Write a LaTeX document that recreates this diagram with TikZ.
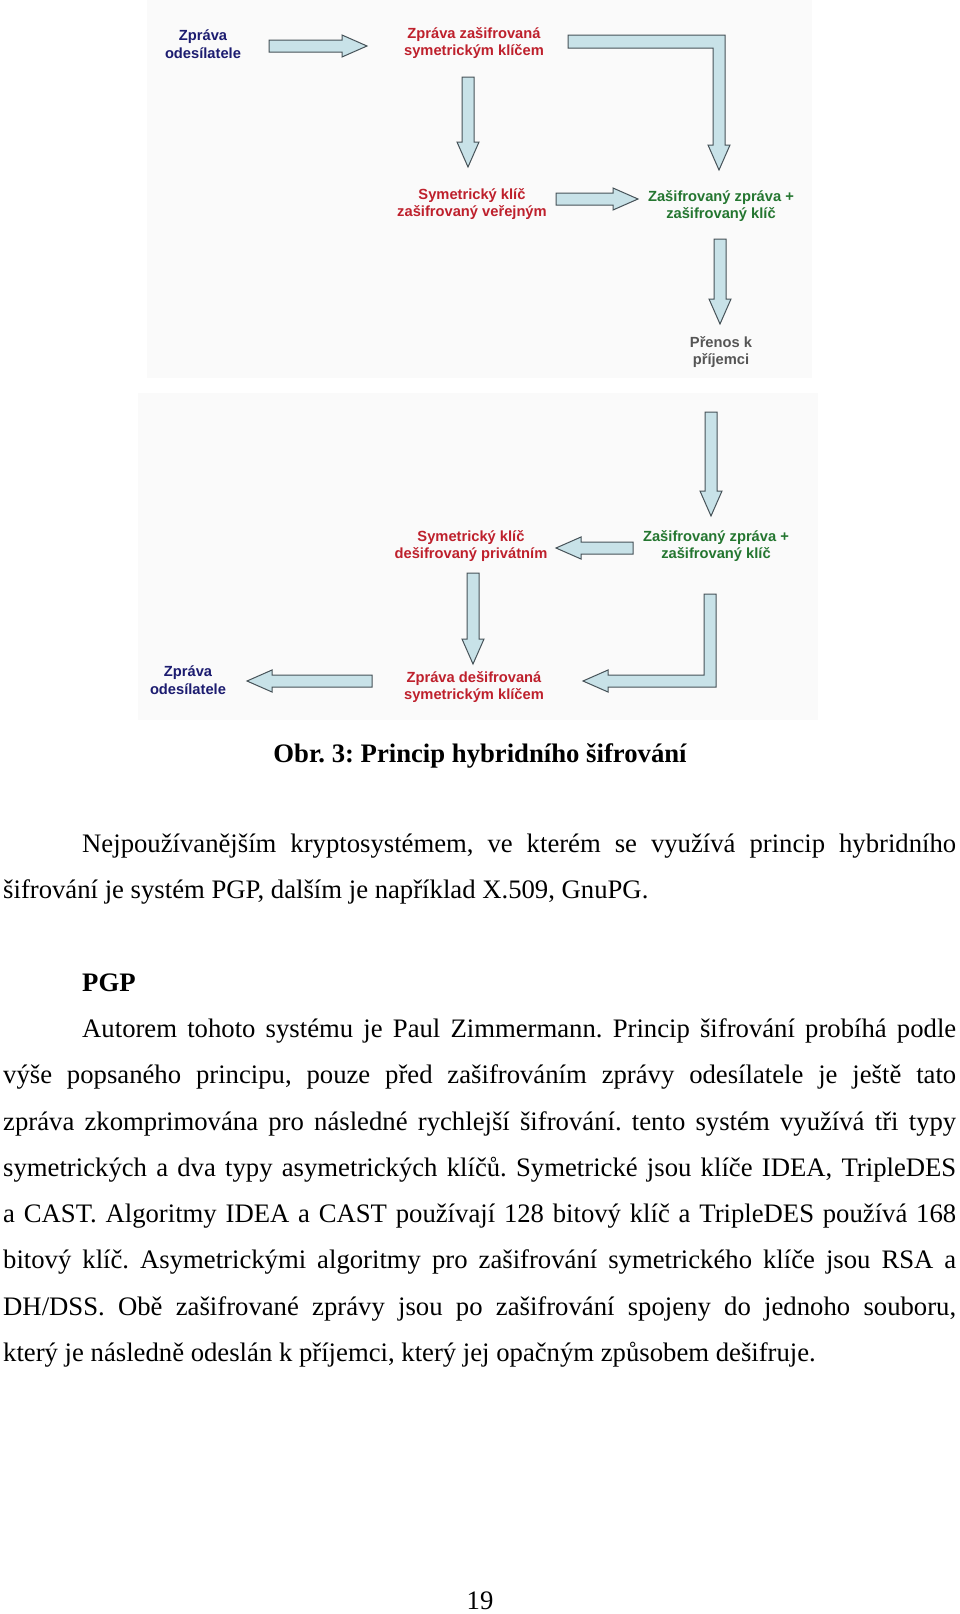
\documentclass[tikz,border=0pt]{standalone}
\usepackage{fontspec}
\setmainfont{Liberation Serif}
\newfontfamily\folienfont{Liberation Sans}
\usepackage{tikz}
\usetikzlibrary{calc}
\frenchspacing

\definecolor{pfeilfill}{RGB}{200,226,232}
\definecolor{pfeilrand}{RGB}{70,82,88}
\definecolor{textblau}{RGB}{28,28,112}
\definecolor{textrot}{RGB}{190,32,44}
\definecolor{textgruen}{RGB}{36,118,48}
\definecolor{textgrau}{RGB}{85,85,85}
\definecolor{folie}{RGB}{250,250,250}

% Masse der Blockpfeile
\newcommand{\pfsw}{6pt}
\newcommand{\pfhw}{11pt}
\newcommand{\pfhl}{25pt}
% Blockpfeil von #1 nach #2
\newcommand{\blockpfeil}[2]{%
  \coordinate (pa) at #1;
  \coordinate (pb) at #2;
  \draw[pfeil] ($(pa)!\pfsw!90:(pb)$)
    -- ($(pb)!\pfhl!(pa)!\pfsw!90:(pb)$)
    -- ($(pb)!\pfhl!(pa)!\pfhw!90:(pb)$)
    -- (pb)
    -- ($(pb)!\pfhl!(pa)!\pfhw!-90:(pb)$)
    -- ($(pb)!\pfhl!(pa)!\pfsw!-90:(pb)$)
    -- ($(pa)!\pfsw!-90:(pb)$) -- cycle;}

\tikzset{
  folientext/.style={font=\folienfont\bfseries\fontsize{14.7}{17.5}\selectfont, align=center, inner sep=0pt},
  pfeil/.style={draw=pfeilrand, fill=pfeilfill, line width=1pt, line join=miter},
  zeile/.style={anchor=base west, inner sep=0pt, font=\fontsize{26.7}{46.3}\selectfont},
}

\begin{document}
\begin{tikzpicture}[x=1pt,y=-1pt]
  \useasboundingbox[fill=white] (0,0) rectangle (960,1614);
  % Hintergrund der beiden Folien
  \fill[folie] (147,0) rectangle (812,378);
  \fill[folie] (138,393) rectangle (818,720);

  % obere Folie: Verschluesselung
  \node[folientext, text=textblau] (n1) at (203,44) {Zpráva\\odesílatele};
  \node[folientext, text=textrot] (n2) at (474,43) {Zpráva zašifrovaná\\symetrickým klíčem};
  \node[folientext, text=textrot] (n3) at (472,204) {Symetrický klíč\\zašifrovaný veřejným};
  \node[folientext, text=textgruen] (n4) at (721,206) {Zašifrovaný zpráva +\\zašifrovaný klíč};
  \node[folientext, text=textgrau] (n5) at (721,352) {Přenos k\\příjemci};

  \blockpfeil{($(n1)+(66,2)$)}{($(n2)+(-107,3)$)}
  \blockpfeil{($(n2)+(-6,34)$)}{($(n3)+(-4,-37)$)}
  \blockpfeil{($(n3)+(84,-5)$)}{($(n4)+(-83,-7)$)}
  \blockpfeil{($(n4)+(-1,33)$)}{($(n5)+(-1,-28)$)}
  % Winkelpfeil oben
  \coordinate (l1s) at ($(n2)+(94,-1)$);
  \coordinate (l1e) at ($(n4)+(-2,-36)$);
  \draw[pfeil] ($(l1s)+(0,-7)$) -- ($(l1e |- l1s)+(6,-7)$) -- ($(l1e)+(6,-25)$)
    -- ($(l1e)+(11,-25)$) -- (l1e) -- ($(l1e)+(-11,-25)$) -- ($(l1e)+(-6,-25)$)
    -- ($(l1e |- l1s)+(-6,6)$) -- ($(l1s)+(0,6)$) -- cycle;

  % untere Folie: Entschluesselung
  \node[folientext, text=textgruen] (n6) at (716,546) {Zašifrovaný zpráva +\\zašifrovaný klíč};
  \node[folientext, text=textrot] (n7) at (471,546) {Symetrický klíč\\dešifrovaný privátním};
  \node[folientext, text=textrot] (n8) at (474,687) {Zpráva dešifrovaná\\symetrickým klíčem};
  \node[folientext, text=textblau] (n9) at (188,680) {Zpráva\\odesílatele};

  \blockpfeil{($(n5)+(-10,60)$)}{($(n6)+(-5,-30)$)}
  \blockpfeil{($(n6)+(-83,2)$)}{($(n7)+(85,2)$)}
  \blockpfeil{($(n7)+(2,27)$)}{($(n8)+(-1,-23)$)}
  \blockpfeil{($(n8)+(-102,-6)$)}{($(n9)+(59,1)$)}
  % Winkelpfeil unten
  \coordinate (l2s) at ($(n6)+(-6,48)$);
  \coordinate (l2e) at ($(n8)+(109,-6)$);
  \draw[pfeil] ($(l2s)+(-6,0)$) -- ($(l2s)+(6,0)$) -- ($(l2s |- l2e)+(6,6)$)
    -- ($(l2e)+(25,6)$) -- ($(l2e)+(25,11)$) -- (l2e) -- ($(l2e)+(25,-11)$)
    -- ($(l2e)+(25,-6)$) -- ($(l2s |- l2e)+(-6,-6)$) -- cycle;

  % Bildunterschrift
  \node[anchor=base, inner sep=0pt, font=\bfseries\fontsize{26.7}{30}\selectfont] (obr) at (480,762)
    {Obr. 3: Princip hybridního šifrování};

  % Text
  \node[zeile] (p1a) at (82,852) {\makebox[874pt][s]{Nejpoužívanějším kryptosystémem, ve kterém se využívá princip hybridního}};
  \node[zeile] (p1b) at (3,898) {šifrování je systém PGP, dalším je například X.509, GnuPG.};
  \node[zeile, font=\bfseries\fontsize{26.7}{46.3}\selectfont] (pgp) at (82,991) {PGP};
  \node[zeile] (p2a) at (82,1037) {\makebox[874pt][s]{Autorem tohoto systému je Paul Zimmermann. Princip šifrování probíhá podle}};
  \node[zeile] (p2b) at (3,1083) {\makebox[953pt][s]{výše popsaného principu, pouze před zašifrováním zprávy odesílatele je ještě tato}};
  \node[zeile] (p2c) at (3,1130) {\makebox[953pt][s]{zpráva zkomprimována pro následné rychlejší šifrování. tento systém využívá tři typy}};
  \node[zeile] (p2d) at (3,1176) {\makebox[953pt][s]{symetrických a dva typy asymetrických klíčů. Symetrické jsou klíče IDEA, TripleDES}};
  \node[zeile] (p2e) at (3,1222) {\makebox[953pt][s]{a CAST. Algoritmy IDEA a CAST používají 128 bitový klíč a TripleDES používá 168}};
  \node[zeile] (p2f) at (3,1268) {\makebox[953pt][s]{bitový klíč. Asymetrickými algoritmy pro zašifrování symetrického klíče jsou RSA a}};
  \node[zeile] (p2g) at (3,1315) {\makebox[953pt][s]{DH/DSS. Obě zašifrované zprávy jsou po zašifrování spojeny do jednoho souboru,}};
  \node[zeile] (p2h) at (3,1361) {který je následně odeslán k příjemci, který jej opačným způsobem dešifruje.};

  % Seitenzahl
  \node[anchor=base, inner sep=0pt, font=\fontsize{26.7}{30}\selectfont] (seite) at (480,1609) {19};
\end{tikzpicture}
\end{document}
